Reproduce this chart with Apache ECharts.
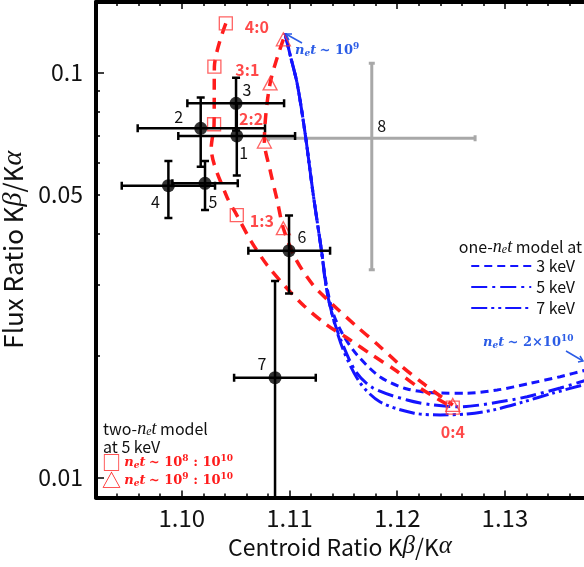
<!DOCTYPE html>
<html><head><meta charset="utf-8">
<script src="https://cdn.jsdelivr.net/npm/echarts@6/dist/echarts.min.js"></script>
<style>html,body{margin:0;padding:0;background:#fff}#c{width:584px;height:567px}</style>
</head><body><div id="c"></div>
<script>
// ---------- data ----------
const pointIds   = ['1','2','3','4','5','6','7'];
const centroid   = [1.10511, 1.10176, 1.10504, 1.09876, 1.10216, 1.10996, 1.10866];
const centroidLo = [1.09968, 1.09591, 1.10052, 1.09443, 1.09913, 1.10618, 1.10486];
const centroidHi = [1.11052, 1.10773, 1.10950, 1.10309, 1.10520, 1.11377, 1.11244];
const flux       = [0.0698, 0.0729, 0.0840, 0.0526, 0.0533, 0.03635, 0.01766];
const fluxLo     = [0.0557, 0.0586, 0.0720, 0.0438, 0.0458, 0.0285, 0.0050];
const fluxHi     = [0.0840, 0.0868, 0.0972, 0.0605, 0.0605, 0.0444, 0.0306];

const grayIds        = ['8'];
const grayCentroid   = [1.11764];
const grayCentroidLo = [1.10805];
const grayCentroidHi = [1.12723];
const grayFlux       = [0.0689];
const grayFluxLo     = [0.0326];
const grayFluxHi     = [0.1055];

const ratioLabels = ['4:0','3:1','2:2','1:3','0:4'];
const sqCentroid  = [1.10409, 1.10303, 1.10300, 1.10511, 1.12516];
const sqFlux      = [0.1324, 0.1035, 0.0746, 0.0445, 0.01489];
const triCentroid = [1.10943, 1.10820, 1.10767, 1.10943, 1.12516];
const triFlux     = [0.1209, 0.0941, 0.0676, 0.0413, 0.01512];

const sqCurveX  = [1.10409,1.10303,1.10300,1.10274,1.10411,1.10511,1.10643,1.10792,1.10959,1.11136,1.11349,1.11563,1.11767,1.11981,1.12194,1.12516];
const sqCurveY  = [0.1324,0.1035,0.0746,0.0652,0.0499,0.0445,0.0384,0.0335,0.0297,0.02655,0.02382,0.02188,0.02009,0.01845,0.01675,0.01489];
const triCurveX = [1.10943,1.10820,1.10767,1.10820,1.10885,1.10943,1.11052,1.11219,1.11405,1.11609,1.11823,1.12027,1.12259,1.12516];
const triCurveY = [0.1209,0.0941,0.0676,0.0575,0.0485,0.0413,0.0349,0.0299,0.0267,0.02382,0.02127,0.01898,0.01694,0.01512];

const kev3X = [1.10959,1.11006,1.11071,1.11145,1.11219,1.11300,1.11340,1.11405,1.11498,1.11628,1.11842,1.12092,1.12398,1.12649,1.12928,1.13234,1.13513,1.13791];
const kev3Y = [0.1251,0.1106,0.0941,0.0709,0.0504,0.0359,0.03025,0.0255,0.02251,0.02009,0.01773,0.01656,0.01618,0.01617,0.01646,0.01710,0.01776,0.01855];
const kev5X = [1.10959,1.11006,1.11071,1.11145,1.11219,1.11300,1.11340,1.11405,1.11488,1.11618,1.11776,1.12092,1.12333,1.12584,1.12891,1.13206,1.13513,1.13791];
const kev5Y = [0.1251,0.1106,0.0941,0.0709,0.0504,0.0359,0.02957,0.02479,0.02151,0.01824,0.01665,0.01555,0.01512,0.01497,0.01529,0.01585,0.01665,0.01753];
const kev7X = [1.10959,1.11006,1.11071,1.11145,1.11219,1.11300,1.11349,1.11423,1.11507,1.11656,1.11842,1.12148,1.12398,1.12649,1.12891,1.13169,1.13448,1.13791];
const kev7Y = [0.1251,0.1106,0.0941,0.0709,0.0504,0.0359,0.02874,0.02382,0.02044,0.01713,0.01538,0.01445,0.01429,0.01437,0.01469,0.01538,0.01618,0.01713];

const xMajorTicks = [1.10, 1.11, 1.12, 1.13];
const xMinorTicks = [1.092,1.094,1.096,1.098,1.102,1.104,1.106,1.108,1.112,1.114,1.116,1.118,1.122,1.124,1.126,1.128,1.132,1.134,1.136];
const yMajorTicks = [0.01, 0.1];
const yMinorTicks = [0.02,0.03,0.04,0.05,0.06,0.07,0.08,0.09];
const yLabels     = [0.01, 0.05, 0.1];
const xMin = 1.09204, xMax = 1.13734, yMin = 0.008935, yMax = 0.14947;

// ---------- styles ----------
const FONT = '"Noto Sans CJK JP", "Noto Sans", sans-serif';
const SERIF = '"DejaVu Serif", "Liberation Serif", serif';
const LSERIF = '"Liberation Serif", "DejaVu Serif", serif';
const RED = '#ff1c1c', BLUE = '#1414ff', TBLUE = '#2b5ce6';
const pointLabelOffsets = [[7,17],[-22,-11],[11,-13],[-13,16],[8,19],[13,-14],[-13,-14]];
const grayLabelOffsets = [[10,-12]];
const ratioOffsets = [[31,4],[33,3],[37,-5],[25,6],[0,24]];

const zip = (a, b) => a.map((v, i) => [v, b[i]]);

function errRender(ids, offs, color, lw, cap) {
  return function (params, api) {
    const i = params.dataIndex;
    const x = api.value(0), y = api.value(1);
    const c = api.coord([x, y]);
    const pl = api.coord([api.value(2), y]), ph = api.coord([api.value(3), y]);
    const pb = api.coord([x, api.value(4)]), pt = api.coord([x, api.value(5)]);
    const st = { stroke: color, lineWidth: lw };
    const L = (x1, y1, x2, y2) => ({ type: 'line', shape: { x1, y1, x2, y2 }, style: st });
    return {
      type: 'group',
      children: [
        L(pl[0], pl[1], ph[0], ph[1]),
        L(pl[0], pl[1] - cap, pl[0], pl[1] + cap),
        L(ph[0], ph[1] - cap, ph[0], ph[1] + cap),
        L(pb[0], pb[1], pt[0], pt[1]),
        L(pb[0] - cap, pb[1], pb[0] + cap, pb[1]),
        L(pt[0] - cap, pt[1], pt[0] + cap, pt[1]),
        { type: 'text', x: c[0] + offs[i][0], y: c[1] + offs[i][1],
          style: { text: ids[i], fill: '#111', font: '16px ' + FONT, align: 'center', verticalAlign: 'middle' } }
      ]
    };
  };
}

const errData = centroid.map((v, i) => [v, flux[i], centroidLo[i], centroidHi[i], fluxLo[i], fluxHi[i]]);
const grayData = grayCentroid.map((v, i) => [v, grayFlux[i], grayCentroidLo[i], grayCentroidHi[i], grayFluxLo[i], grayFluxHi[i]]);

const xNameRich = { i: { fontFamily: LSERIF, fontStyle: 'italic', fontSize: 25, color: '#111' } };
const yNameRich = { i: { fontFamily: LSERIF, fontStyle: 'italic', fontSize: 28, color: '#111' } };
// rich styles for graphic text (zrender uses `fill`)
const netRich = (col, size) => ({
  n: { fontFamily: SERIF, fontStyle: 'italic', fontWeight: 'bold', fontSize: size, fill: col },
  sub: { fontFamily: SERIF, fontStyle: 'italic', fontWeight: 'bold', fontSize: Math.round(size * 0.7), fill: col, padding: [6, 0, 0, 0] },
  r: { fontFamily: SERIF, fontWeight: 'bold', fontSize: size, fill: col },
  sup: { fontFamily: SERIF, fontWeight: 'bold', fontSize: Math.round(size * 0.7), fill: col, padding: [0, 0, 8, 0] },
  t: { fontFamily: FONT, fontSize: 19, fill: col },
  ti: { fontFamily: LSERIF, fontStyle: 'italic', fontSize: 18, fill: col },
  tsub: { fontFamily: LSERIF, fontStyle: 'italic', fontSize: 12, fill: col, padding: [6, 0, 0, 0] }
});

const chart = echarts.init(document.getElementById('c'), null, { renderer: 'canvas' });
const tickStyle = { color: '#000', width: 1.5 };
chart.setOption({
  animation: false,
  backgroundColor: '#fff',
  grid: { left: 96, right: 0, top: 2, bottom: 69.5, outerBoundsMode: 'none', containLabel: false },
  xAxis: [
    { type: 'value', position: 'bottom', min: xMin, max: xMax,
      axisLine: { show: true, onZero: false, lineStyle: { color: '#000', width: 4 } },
      axisTick: { show: true, inside: true, length: 7, lineStyle: tickStyle, customValues: xMajorTicks },
      axisLabel: { customValues: xMajorTicks, formatter: v => v.toFixed(2), fontSize: 24, color: '#111', margin: 8, fontFamily: FONT },
      splitLine: { show: false },
      name: 'Centroid Ratio K{i|β}/K{i|α}', nameLocation: 'middle', nameGap: 36,
      nameTextStyle: { fontSize: 23, color: '#111', fontFamily: FONT, rich: xNameRich } },
    { type: 'value', position: 'bottom', min: xMin, max: xMax,
      axisLine: { show: false, onZero: false },
      axisTick: { show: true, inside: true, length: 4, lineStyle: tickStyle, customValues: xMinorTicks },
      axisLabel: { show: false }, splitLine: { show: false } },
    { type: 'value', position: 'top', min: xMin, max: xMax,
      axisLine: { show: true, onZero: false, lineStyle: { color: '#000', width: 4 } },
      axisTick: { show: true, inside: true, length: 7, lineStyle: tickStyle, customValues: xMajorTicks },
      axisLabel: { show: false }, splitLine: { show: false } },
    { type: 'value', position: 'top', min: xMin, max: xMax,
      axisLine: { show: false, onZero: false },
      axisTick: { show: true, inside: true, length: 4, lineStyle: tickStyle, customValues: xMinorTicks },
      axisLabel: { show: false }, splitLine: { show: false } }
  ],
  yAxis: [
    { type: 'log', logBase: 10, position: 'left', min: yMin, max: yMax,
      axisLine: { show: true, onZero: false, lineStyle: { color: '#000', width: 4 } },
      axisTick: { show: true, inside: true, length: 8, lineStyle: tickStyle, customValues: yMajorTicks },
      axisLabel: { customValues: yLabels, formatter: v => String(+v.toPrecision(3)), fontSize: 23, color: '#111', margin: 13, fontFamily: FONT },
      splitLine: { show: false }, minorTick: { show: false },
      name: 'Flux Ratio K{i|β}/K{i|α}', nameLocation: 'middle', nameGap: 60, nameRotate: 90,
      nameTextStyle: { fontSize: 26, color: '#111', fontFamily: FONT, rich: yNameRich } },
    { type: 'log', logBase: 10, position: 'left', min: yMin, max: yMax,
      axisLine: { show: false, onZero: false },
      axisTick: { show: true, inside: true, length: 4, lineStyle: tickStyle, customValues: yMinorTicks },
      axisLabel: { show: false }, splitLine: { show: false } }
  ],
  legend: {
    data: ['3 keV', '5 keV', '7 keV'], orient: 'vertical', right: 9, top: 258,
    itemWidth: 60, itemHeight: 12, itemGap: 5, padding: 0,
    itemStyle: { opacity: 0 },
    textStyle: { fontSize: 16, color: '#111', fontFamily: FONT, lineHeight: 13 },
    selectedMode: false
  },
  series: [
    { type: 'custom', name: 'region8', xAxisIndex: 0, yAxisIndex: 0, clip: true, z: 2,
      renderItem: errRender(grayIds, grayLabelOffsets, '#a8a8a8', 3, 3), data: grayData },
    { type: 'line', name: '3 keV', xAxisIndex: 0, yAxisIndex: 0, data: zip(kev3X, kev3Y), smooth: 0.3, symbol: 'none', z: 3,
      lineStyle: { color: BLUE, width: 3, type: [8, 5] }, itemStyle: { color: BLUE } },
    { type: 'line', name: '5 keV', xAxisIndex: 0, yAxisIndex: 0, data: zip(kev5X, kev5Y), smooth: 0.3, symbol: 'none', z: 3,
      lineStyle: { color: BLUE, width: 3, type: [16, 5, 3, 5] }, itemStyle: { color: BLUE } },
    { type: 'line', name: '7 keV', xAxisIndex: 0, yAxisIndex: 0, data: zip(kev7X, kev7Y), smooth: 0.3, symbol: 'none', z: 3,
      lineStyle: { color: BLUE, width: 3, type: [16, 4, 3, 4, 3, 4] }, itemStyle: { color: BLUE } },
    { type: 'line', name: 'sqCurve', xAxisIndex: 0, yAxisIndex: 0, data: zip(sqCurveX, sqCurveY), smooth: 0.3, symbol: 'none', z: 4,
      lineStyle: { color: RED, width: 3.5, type: [11, 8] } },
    { type: 'line', name: 'triCurve', xAxisIndex: 0, yAxisIndex: 0, data: zip(triCurveX, triCurveY), smooth: 0.3, symbol: 'none', z: 4,
      lineStyle: { color: RED, width: 3.5, type: [11, 8] } },
    { type: 'scatter', name: 'sq', xAxisIndex: 0, yAxisIndex: 0, symbol: 'rect', symbolSize: 13, z: 5,
      itemStyle: { color: 'rgba(255,255,255,0)', borderColor: '#ff3b3b', borderWidth: 1.3 },
      data: sqCentroid.map((v, i) => ({ value: [v, sqFlux[i]],
        label: { show: true, formatter: ratioLabels[i], position: 'inside', offset: ratioOffsets[i],
                 color: RED, fontSize: 16, fontWeight: 'bold', fontFamily: FONT } })) },
    { type: 'scatter', name: 'tri', xAxisIndex: 0, yAxisIndex: 0, symbol: 'triangle', symbolSize: [14, 13], z: 5,
      itemStyle: { color: 'rgba(255,255,255,0)', borderColor: '#ff3b3b', borderWidth: 1.3 },
      data: zip(triCentroid, triFlux) },
    { type: 'custom', name: 'regions', xAxisIndex: 0, yAxisIndex: 0, clip: true, z: 6,
      renderItem: errRender(pointIds, pointLabelOffsets, '#000', 2.5, 4), data: errData },
    { type: 'scatter', name: 'points', xAxisIndex: 0, yAxisIndex: 0, symbol: 'circle', symbolSize: 13, z: 7,
      itemStyle: { color: '#000' }, data: zip(centroid, flux) }
  ],
  graphic: [
    { type: 'text', x: 582, y: 247, z: 10,
      style: { text: 'one-{ti|n}{tsub|e}{ti|t} model at', align: 'right', verticalAlign: 'middle',
               fill: '#111', font: '16px ' + FONT, rich: netRich('#111', 14) } },
    { type: 'text', x: 103, y: 429, z: 10,
      style: { text: 'two-{ti|n}{tsub|e}{ti|t} model', align: 'left', verticalAlign: 'middle',
               fill: '#111', font: '16px ' + FONT, rich: netRich('#111', 14) } },
    { type: 'text', x: 103, y: 447, z: 10,
      style: { text: 'at 5 keV', align: 'left', verticalAlign: 'middle', fill: '#111', font: '16px ' + FONT } },
    { type: 'text', x: 102, y: 463, z: 10,
      style: { text: '{t|□} {n|n}{sub|e}{n|t} {r|~ 10}{sup|8}{r| : 10}{sup|10}', align: 'left', verticalAlign: 'middle',
               fill: RED, rich: netRich(RED, 13) } },
    { type: 'text', x: 102, y: 481, z: 10,
      style: { text: '{t|△} {n|n}{sub|e}{n|t} {r|~ 10}{sup|9}{r| : 10}{sup|10}', align: 'left', verticalAlign: 'middle',
               fill: RED, rich: netRich(RED, 13) } },
    { type: 'text', x: 295, y: 51, z: 10,
      style: { text: '{n|n}{sub|e}{n|t} {r|~ 10}{sup|9}', align: 'left', verticalAlign: 'middle', fill: TBLUE, rich: netRich(TBLUE, 13) } },
    { type: 'text', x: 483, y: 343, z: 10,
      style: { text: '{n|n}{sub|e}{n|t} {r|~ 2×10}{sup|10}', align: 'left', verticalAlign: 'middle', fill: TBLUE, rich: netRich(TBLUE, 13) } },
    { type: 'polyline', z: 10, shape: { points: [[302, 43], [286, 34]] }, style: { stroke: TBLUE, lineWidth: 1.5, fill: null } },
    { type: 'polyline', z: 10, shape: { points: [[292, 34], [286, 34], [289, 40]] }, style: { stroke: TBLUE, lineWidth: 1.5, fill: null } },
    { type: 'polyline', z: 10, shape: { points: [[566, 351], [583, 361]] }, style: { stroke: TBLUE, lineWidth: 1.5, fill: null } },
    { type: 'polyline', z: 10, shape: { points: [[580, 356], [583, 361], [578, 362]] }, style: { stroke: TBLUE, lineWidth: 1.5, fill: null } }
  ]
});
</script></body></html>
